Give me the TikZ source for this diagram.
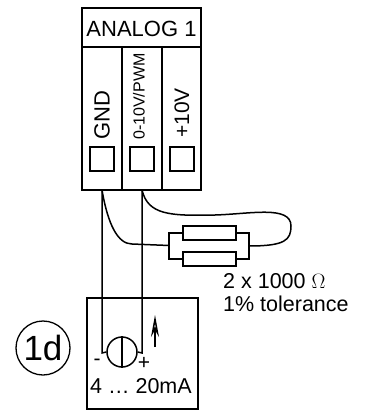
\documentclass[tikz,border=0pt]{standalone}
\usepackage{fontspec}
\setmainfont{Liberation Sans}
\usetikzlibrary{arrows.meta}
\tikzset{
  wire/.style={line width=1.5pt},
  box/.style={draw,line width=1.5pt,inner sep=0pt,outer sep=0pt},
  term/.style={inner sep=0pt,rotate=90,anchor=west},
  lbl/.style={inner sep=0pt,font=\fontsize{#1}{#1}\selectfont},
}
\begin{document}
\begin{tikzpicture}[x=1pt,y=-1pt]
  \useasboundingbox (0,0) rectangle (367,412);
  % terminal block
  \node (head) [box,minimum width=119pt,minimum height=39pt] at (141.5,27.5) {};
  \node (gndb) [box,minimum width=40pt,minimum height=143pt] at (102,118.5) {};
  \node (pwmb) [box,minimum width=40pt,minimum height=143pt] at (142,118.5) {};
  \node (tenb) [box,minimum width=39pt,minimum height=143pt] at (181.5,118.5) {};
  \node (a1) [lbl=22] at (141.5,29) {ANALOG 1};
  \node [term,lbl=22] at (102,140) {GND};
  \node [term,lbl=16] at (139,140) {0-10V/PWM};
  \node [term,lbl=21] at (182,138) {+10V};
  \node (gnds) [box,minimum size=24pt] at (102,159) {};
  \node (pwms) [box,minimum size=24pt] at (142,159) {};
  \node (tens) [box,minimum size=24pt] at (182,159) {};
  % resistors
  \node (r1) [box,minimum width=53pt,minimum height=14pt] at (209.5,233) {};
  \node (r2) [box,minimum width=53pt,minimum height=14pt] at (209.5,259) {};
  \coordinate (rl) at (169,245.5);
  \coordinate (rr) at (249,246);
  \draw [wire] (r1.west) -| (rl) |- (r2.west);
  \draw [wire] (r1.east) -| (rr) |- (r2.east);
  \node (ohm) [lbl=21.5,anchor=west] at (223,281) {2 x 1000 $\Omega$};
  \node (tol) [lbl=21.5,anchor=west] at (223,304) {1\% tolerance};
  % transmitter
  \node (tx) [box,minimum width=111pt,minimum height=111pt] at (142.5,353.5) {};
  \node (src) [draw,circle,line width=1.5pt,minimum size=30pt,inner sep=0pt] at (122,352) {};
  \draw [wire] (src.north) -- (src.south);
  \node (mi) [lbl=21] at (97,362) {-};
  \node (pl) [lbl=21] at (144,363) {+};
  \node (ma) [lbl=21.5,anchor=west] at (90,386) {4 … 20mA};
  \node (id) [draw,circle,line width=1.3pt,minimum size=54pt,inner sep=0pt,lbl=35] at (43,348) {1d};
  \coordinate (at) at (155,315);
  \coordinate (ab) at (155,347);
  \draw [wire,-{Stealth[length=22pt,width=8pt,inset=7pt,fill=white]}] (ab) -- (at);
  % wiring
  \draw [wire] (gndb.south) -- (102,353) -- (src.west);
  \draw [wire] (pwmb.south) -- (142,353) -- (src.east);
  \draw [wire] (gndb.south) .. controls (108,225) and (118,244) .. (132,244) -- (rl);
  \draw [wire] (pwmb.south) .. controls (148,215) and (170,216) .. (215,215)
     .. controls (250,214) and (291,205) .. (291,226)
     .. controls (291,240) and (285,246) .. (rr);
\end{tikzpicture}
\end{document}
